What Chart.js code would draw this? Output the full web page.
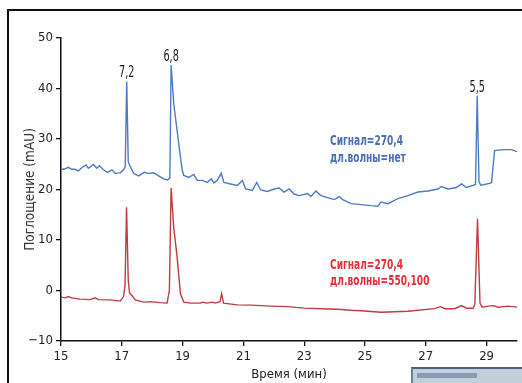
<!DOCTYPE html>
<html><head><meta charset="utf-8">
<script src="https://cdn.jsdelivr.net/npm/chart.js@4.4.1/dist/chart.umd.min.js"></script>
<style>
html,body{margin:0;padding:0;background:#fff;overflow:hidden;}
#wrap{position:relative;width:522px;height:383px;overflow:hidden;}
canvas{position:absolute;left:0;top:0;}
#frame{position:absolute;left:7px;top:9px;width:600px;height:400px;border-left:2px solid #111;border-top:2px solid #111;pointer-events:none;}
#thumb{position:absolute;left:411px;top:367px;width:120px;height:20px;background:#c4cfdc;border-top:2px solid #4d5f7d;border-left:2px solid #6f7f98;}
#thumb div{position:absolute;left:4px;top:4px;width:60px;height:5px;background:#8b9ab3;}
</style></head><body>
<div id="wrap"><canvas id="c" width="522" height="383"></canvas><div id="frame"></div><div id="thumb"><div></div></div></div>
<script>
const FONT = "'Liberation Sans Narrow','DejaVu Sans Condensed','Roboto Condensed',sans-serif";

const xTicks = [15,17,19,21,23,25,27,29];
const yTicks = [-10,0,10,20,30,40,50];

const blueTimes = [15.000,15.132,15.241,15.353,15.462,15.571,15.683,15.825,15.901,16.066,
  16.179,16.264,16.397,16.529,16.674,16.783,16.948,17.057,17.113,17.162,
  17.212,17.255,17.387,17.552,17.740,17.882,18.047,18.212,18.377,18.509,
  18.582,18.622,18.708,18.764,18.873,18.985,19.038,19.203,19.368,19.480,
  19.645,19.810,19.942,20.028,20.140,20.272,20.358,20.579,20.800,20.966,
  21.075,21.296,21.438,21.570,21.791,22.009,22.174,22.339,22.504,22.669,
  22.834,23.112,23.220,23.386,23.551,23.772,23.990,24.155,24.268,24.542,
  24.872,25.202,25.423,25.532,25.753,26.083,26.413,26.743,27.073,27.404,
  27.513,27.734,28.008,28.173,28.338,28.559,28.635,28.691,28.750,28.817,
  28.932,29.097,29.163,29.262,29.394,29.592,29.823,30.000];
const blueValues = [23.9,24.1,24.4,24.0,24.0,23.7,24.3,24.85,24.2,24.95,
  24.2,24.7,23.9,23.4,23.9,23.2,23.3,23.9,24.5,41.4,
  25.5,24.85,23.2,22.7,23.4,23.2,23.3,22.7,22.1,21.9,
  22.3,44.65,37.0,34.3,29.1,23.9,22.8,22.4,23.0,21.8,
  21.8,21.4,22.1,21.3,21.8,23.2,21.4,21.1,20.8,21.8,
  20.1,19.8,21.4,19.9,19.6,20.1,20.3,19.5,20.1,19.1,
  18.8,19.2,18.6,19.7,18.8,18.4,18.0,18.6,18.0,17.2,
  17.0,16.8,16.7,17.5,17.2,18.2,18.8,19.5,19.7,20.1,
  20.6,20.1,20.4,21.1,20.4,20.8,21.0,38.6,21.5,20.8,
  21.0,21.2,21.4,27.7,27.8,27.9,27.9,27.5];

const redTimes = [15.000,15.132,15.241,15.353,15.627,15.957,16.122,16.231,16.618,16.948,
  17.057,17.106,17.156,17.212,17.255,17.334,17.443,17.717,17.938,18.268,
  18.489,18.565,18.622,18.708,18.820,18.929,19.038,19.259,19.589,19.645,
  19.810,19.975,20.084,20.233,20.282,20.348,20.800,21.240,21.900,22.451,
  22.999,23.551,24.102,24.541,24.871,25.532,26.413,27.291,27.489,27.621,
  27.951,28.173,28.338,28.559,28.612,28.701,28.783,28.856,29.054,29.219,
  29.384,29.714,30.000];
const redValues = [-1.3,-1.45,-1.2,-1.45,-1.7,-1.8,-1.45,-1.8,-1.85,-2.1,
  -1.2,1.0,16.5,2.0,-0.5,-1.0,-1.85,-2.3,-2.2,-2.4,
  -2.5,0.0,20.3,12.5,6.6,-0.65,-2.3,-2.5,-2.5,-2.3,
  -2.5,-2.3,-2.5,-2.2,-0.65,-2.5,-2.85,-2.9,-3.1,-3.2,
  -3.5,-3.6,-3.7,-3.9,-4.0,-4.3,-4.1,-3.6,-3.2,-3.6,
  -3.6,-3.0,-3.5,-3.5,-2.7,14.2,-2.5,-3.3,-3.1,-3.0,
  -3.3,-3.1,-3.3];

const peakLabels = ['7,2','6,8','5,5'];
const peakTimes = [17.162,18.622,28.691];
const blueNote = ['Сигнал=270,4','дл.волны=нет'];
const redNote = ['Сигнал=270,4','дл.волны=550,100'];

function condensedText(ctx, s, px, py, k, align){
  ctx.save();
  ctx.translate(px, py);
  ctx.scale(k, 1);
  ctx.textAlign = align;
  ctx.fillText(s, 0, 0);
  ctx.restore();
}

const notesPlugin = {
  id:'notes',
  afterDatasetsDraw(chart){
    const {ctx, scales:{x,y}} = chart;
    ctx.save();
    ctx.font = '15px ' + FONT;
    ctx.fillStyle = '#1a1a1a';
    ctx.textBaseline = 'alphabetic';
    peakLabels.forEach((lab,i)=>{
      const t = peakTimes[i];
      const v = blueValues[blueTimes.indexOf(t)];
      condensedText(ctx, lab, x.getPixelForValue(t), y.getPixelForValue(v) - 4, 0.72, 'center');
    });
    ctx.font = 'bold 14px ' + FONT;
    ctx.textBaseline = 'middle';
    const nx = x.getPixelForValue(23.85);
    ctx.fillStyle = '#4a6db8';
    const by = y.getPixelForValue(29.47);
    blueNote.forEach((s,i)=>condensedText(ctx, s, nx, by + i*16.5, 0.72, 'left'));
    ctx.fillStyle = '#e6303a';
    const ry = y.getPixelForValue(5.05);
    redNote.forEach((s,i)=>condensedText(ctx, s, nx, ry + i*16, 0.72, 'left'));
    ctx.restore();
  }
};

const axisColor = '#111';
new Chart(document.getElementById('c'), {
  type:'line',
  data:{datasets:[
    {data: blueTimes.map((t,i)=>({x:t,y:blueValues[i]})), borderColor:'#4b7cc3', borderWidth:1.4, pointRadius:0, tension:0, fill:false},
    {data: redTimes.map((t,i)=>({x:t,y:redValues[i]})), borderColor:'#c13b40', borderWidth:1.4, pointRadius:0, tension:0, fill:false}
  ]},
  options:{
    responsive:false, animation:false, devicePixelRatio:1,
    layout:{padding:{left:0,right:5,top:38,bottom:0}},
    plugins:{legend:{display:false}, tooltip:{enabled:false}},
    scales:{
      x:{type:'linear', min:15, max:30,
        afterBuildTicks:s=>{s.ticks = xTicks.map(v=>({value:v}));},
        afterFit:s=>{s.height = 42;},
        grid:{drawOnChartArea:false, drawTicks:true, tickLength:5, color:axisColor, lineWidth:1.3},
        border:{display:true, color:axisColor, width:1.5},
        ticks:{font:{family:FONT,size:13}, color:'#222', padding:3, maxRotation:0, autoSkip:false},
        title:{display:true, text:'Время (мин)', font:{family:FONT,size:13}, color:'#222', padding:{top:0,bottom:1}}
      },
      y:{type:'linear', min:-10, max:50,
        afterBuildTicks:s=>{s.ticks = yTicks.map(v=>({value:v}));},
        afterFit:s=>{s.width = 61;},
        grid:{drawOnChartArea:false, drawTicks:true, tickLength:5, color:axisColor, lineWidth:1.3},
        border:{display:true, color:axisColor, width:1.5},
        ticks:{font:{family:FONT,size:13}, color:'#222', padding:3, autoSkip:false,
          callback:v=> v < 0 ? '\u2212' + Math.abs(v) : String(v)},
        title:{display:true, text:'Поглощение (mAU)', font:{family:FONT,size:13.5}, color:'#333', padding:{top:22,bottom:0}}
      }
    }
  },
  plugins:[notesPlugin]
});
</script>
</body></html>
